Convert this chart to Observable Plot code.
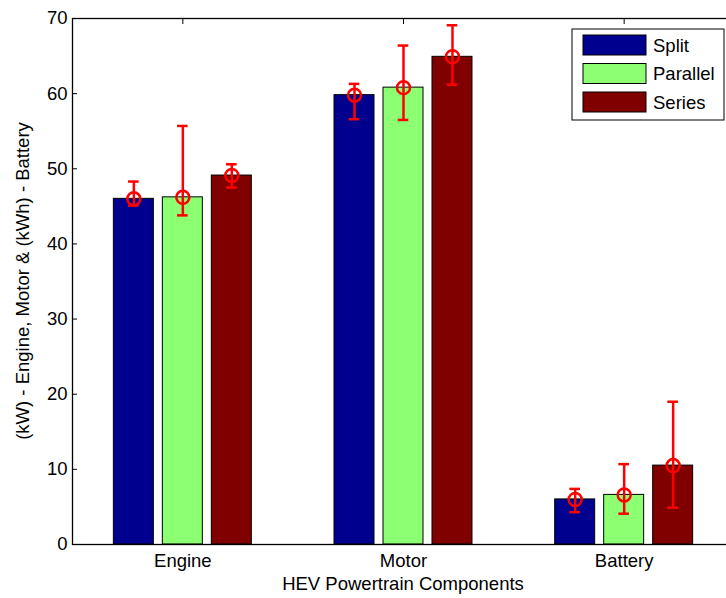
<!DOCTYPE html>
<html><head><meta charset="utf-8">
<script src="https://cdn.jsdelivr.net/npm/d3@7"></script>
<script src="https://cdn.jsdelivr.net/npm/@observablehq/plot@0.6"></script>
<style>html,body{margin:0;padding:0;background:#fff;overflow:hidden;}</style>
</head><body><div id="chart"></div>
<script>
const categories = ["Engine", "Motor", "Battery"];
const series = ["Split", "Parallel", "Series"];
const splitValues    = [46.0, 59.8, 6.0];
const parallelValues = [46.2, 60.8, 6.6];
const seriesValues   = [49.1, 64.9, 10.5];
const splitLow     = [45.1, 56.6, 4.3];
const parallelLow  = [43.8, 56.5, 4.1];
const seriesLow    = [47.5, 61.2, 4.9];
const splitHigh    = [48.3, 61.3, 7.4];
const parallelHigh = [55.7, 66.4, 10.7];
const seriesHigh   = [50.6, 69.1, 19.0];
const yTicks = [0, 10, 20, 30, 40, 50, 60, 70];
const yLabel = "(kW) - Engine, Motor & (kWh) - Battery";
const xLabel = "HEV Powertrain Components";

const values = [splitValues, parallelValues, seriesValues];
const lows = [splitLow, parallelLow, seriesLow];
const highs = [splitHigh, parallelHigh, seriesHigh];
const colors = ["#00008f", "#8cff73", "#800000"];

const STEP = 0.222, HALF = 0.0906, CAP = 0.024;
const rows = [];
series.forEach((s, j) => categories.forEach((c, i) => rows.push({
  category: c, series: s, x: i + 1 + (j - 1) * STEP,
  value: values[j][i], low: lows[j][i], high: highs[j][i]
})));

const font = "'Liberation Sans', Arial, Helvetica, sans-serif";
const chart = Plot.plot({
  width: 740, height: 598,
  marginLeft: 72, marginRight: 6, marginTop: 18, marginBottom: 54,
  style: {fontFamily: font, fontSize: "18.5px", background: "#fff", color: "#000", maxWidth: "none", overflow: "visible"},
  x: {domain: [0.5, 3.5]},
  y: {domain: [0, 70]},
  color: {domain: series, range: colors},
  marks: [
    Plot.rectY(rows, {x1: d => d.x - HALF, x2: d => d.x + HALF, y: "value", fill: "series", stroke: "#000", strokeWidth: 1}),
    Plot.ruleX(rows, {x: "x", y1: "low", y2: "high", stroke: "red", strokeWidth: 2.5}),
    Plot.ruleY(rows, {y: "low", x1: d => d.x - CAP, x2: d => d.x + CAP, stroke: "red", strokeWidth: 2.5}),
    Plot.ruleY(rows, {y: "high", x1: d => d.x - CAP, x2: d => d.x + CAP, stroke: "red", strokeWidth: 2.5}),
    Plot.dot(rows, {x: "x", y: "value", r: 6.5, stroke: "red", strokeWidth: 2.5, fill: "none"}),
    Plot.frame({stroke: "#000", strokeWidth: 1.3}),
    Plot.axisY({ticks: yTicks, tickSize: -5, tickPadding: 10, label: null}),
    Plot.axisX({anchor: "bottom", ticks: [1, 2, 3], tickFormat: i => categories[i - 1], tickSize: 0, tickPadding: 9, label: null}),
    Plot.axisX({anchor: "top", ticks: [1, 2, 3], tickSize: -5, tickFormat: () => "", label: null})
  ]
});
chart.style.width = "740px";
chart.style.height = "598px";
document.getElementById("chart").appendChild(chart);

const svg = d3.select(chart);
// axis titles
svg.append("text").attr("transform", "translate(29,281) rotate(-90)")
  .attr("text-anchor", "middle").attr("font-family", font).attr("font-size", 18.5)
  .attr("fill", "#000").text(yLabel);
svg.append("text").attr("x", 403).attr("y", 590)
  .attr("text-anchor", "middle").attr("font-family", font).attr("font-size", 18.5)
  .attr("fill", "#000").text(xLabel);

// legend inside the axes (MATLAB style)
const lg = svg.append("g").attr("font-family", font).attr("font-size", 18.5).attr("text-anchor", "start");
lg.append("rect").attr("x", 572).attr("y", 29).attr("width", 152).attr("height", 91)
  .attr("fill", "#fff").attr("stroke", "#000").attr("stroke-width", 1);
series.forEach((s, j) => {
  const y0 = 35 + j * 28.5;
  lg.append("rect").attr("x", 583).attr("y", y0).attr("width", 63).attr("height", 20)
    .attr("fill", colors[j]).attr("stroke", "#000").attr("stroke-width", 1);
  lg.append("text").attr("x", 653).attr("y", y0 + 16.5).attr("fill", "#000").text(s);
});
</script>
</body></html>
